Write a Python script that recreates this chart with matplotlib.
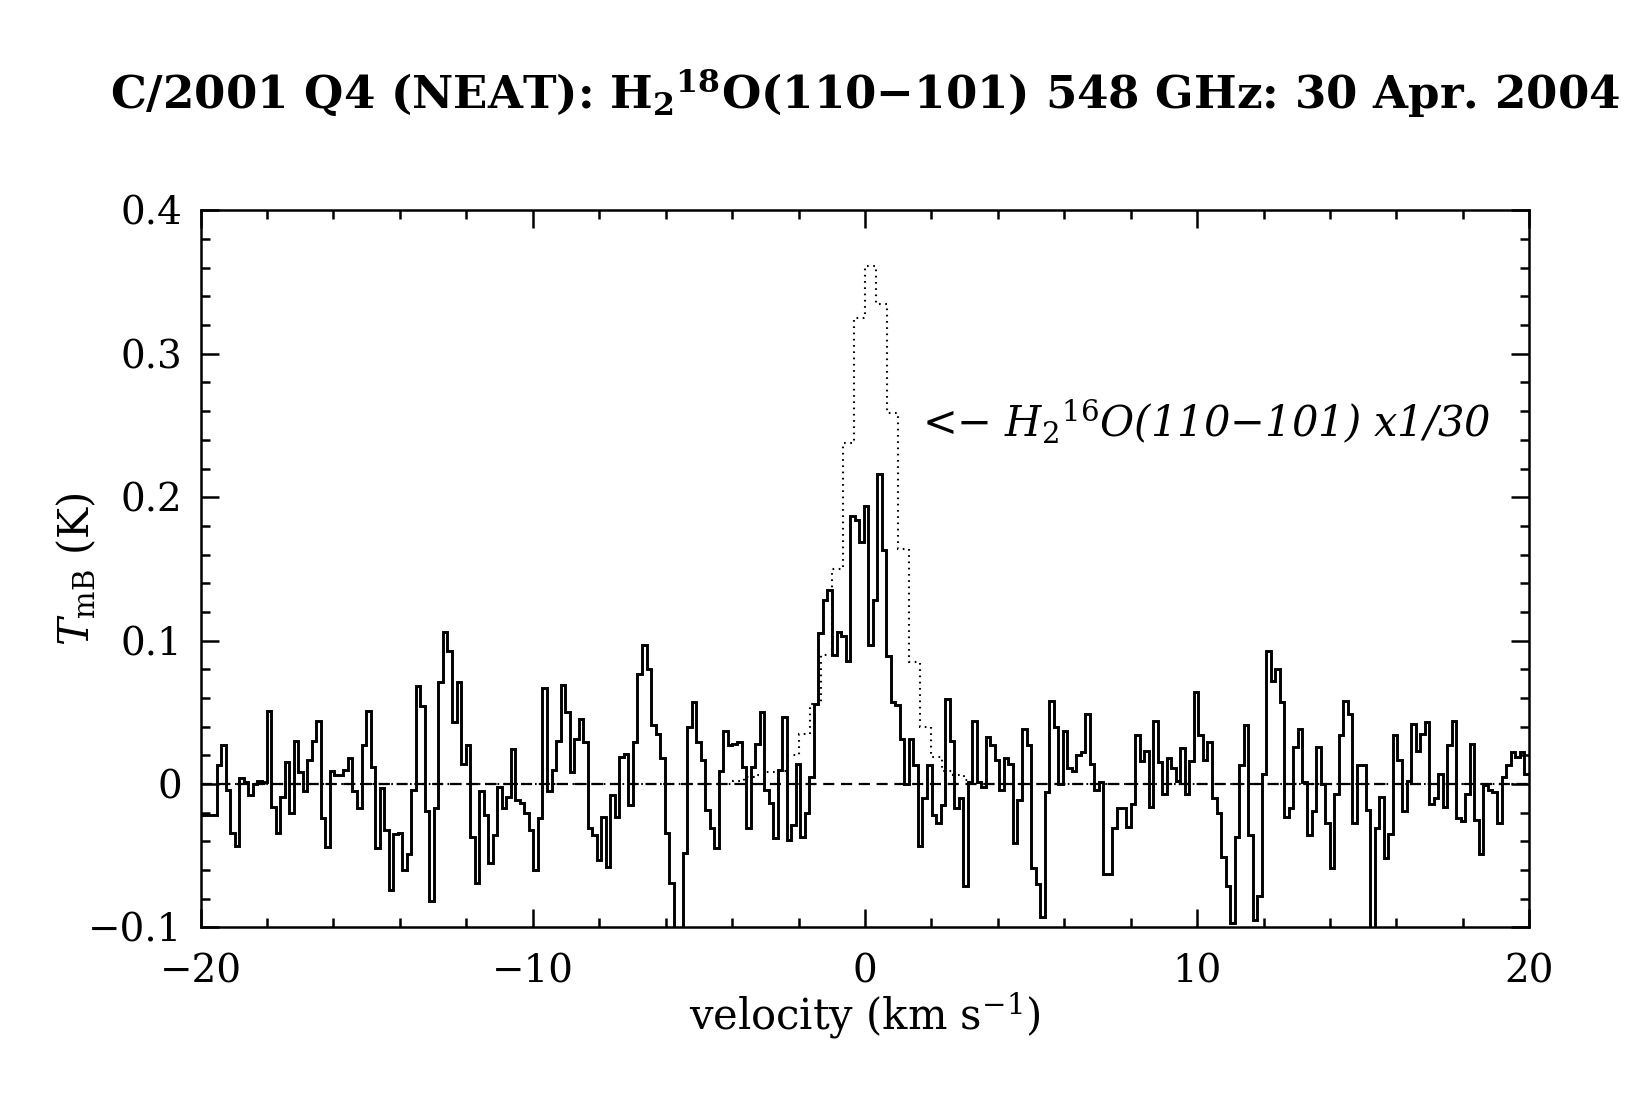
import numpy as np
import matplotlib
matplotlib.use("Agg")
import matplotlib.pyplot as plt

plt.rcParams['font.family'] = ['DejaVu Serif']
plt.rcParams['mathtext.fontset'] = 'dejavuserif'

# H2-18O spectrum, channel values (K)
v_start = -20.06      # left edge of first channel (km/s)
dv = 0.1362           # channel width (km/s)
tmb_18 = [
    -0.022, -0.022, -0.022, -0.022, 0.013, 0.027, -0.004, -0.034, -0.043, 0.004,
    0.001, -0.008, 0.000, 0.002, 0.001, 0.051, -0.016, -0.034, -0.009, 0.015,
    -0.020, 0.030, 0.008, -0.005, 0.017, 0.030, 0.044, -0.024, -0.044, 0.009,
    0.006, 0.006, 0.010, 0.018, -0.005, -0.017, 0.027, 0.051, 0.012, -0.045,
    -0.003, -0.032, -0.074, -0.035, -0.034, -0.060, -0.049, -0.004, 0.068, 0.054,
    -0.019, -0.082, -0.017, 0.071, 0.106, 0.093, 0.043, 0.071, 0.014, 0.027,
    -0.037, -0.069, -0.005, -0.022, -0.055, -0.036, -0.002, -0.017, -0.009, 0.024,
    -0.011, -0.013, -0.020, -0.032, -0.060, -0.024, 0.067, -0.005, 0.010, 0.030,
    0.069, 0.050, 0.008, 0.031, 0.045, 0.029, -0.031, -0.036, -0.053, -0.023,
    -0.058, -0.008, -0.023, 0.019, 0.021, -0.015, 0.029, 0.077, 0.097, 0.080,
    0.041, 0.035, 0.018, -0.034, -0.069, -0.120, -0.120, -0.048, 0.040, 0.057,
    0.029, 0.017, -0.018, -0.031, -0.045, 0.009, 0.037, 0.027, 0.028, 0.029,
    0.012, -0.031, 0.012, 0.028, 0.050, -0.004, -0.013, -0.038, 0.010, 0.047,
    -0.039, -0.029, 0.014, -0.037, -0.020, 0.005, 0.056, 0.105, 0.128, 0.135,
    0.090, 0.106, 0.103, 0.086, 0.187, 0.184, 0.169, 0.194, 0.097, 0.128,
    0.216, 0.163, 0.089, 0.057, 0.055, 0.031, 0.000, 0.031, 0.013, -0.043,
    -0.010, 0.013, -0.022, -0.027, -0.015, 0.059, 0.030, -0.017, -0.010, -0.071,
    0.001, 0.044, 0.001, -0.002, 0.033, 0.027, 0.017, -0.004, 0.018, 0.014,
    -0.041, -0.011, 0.038, 0.027, -0.059, -0.070, -0.093, -0.006, 0.058, 0.040,
    0.000, 0.037, 0.011, 0.009, 0.020, 0.022, 0.049, 0.014, -0.004, 0.001,
    -0.063, -0.063, -0.031, -0.017, -0.017, -0.030, -0.014, 0.034, 0.016, 0.023,
    -0.016, 0.044, 0.015, -0.007, 0.018, 0.011, 0.002, 0.025, -0.007, 0.016,
    0.064, 0.034, 0.017, 0.029, -0.010, -0.020, -0.051, -0.071, -0.097, -0.037,
    0.013, 0.041, -0.036, -0.095, -0.078, 0.007, 0.093, 0.072, 0.080, 0.057,
    -0.023, -0.017, 0.026, 0.038, 0.001, -0.036, -0.019, 0.026, 0.000, -0.027,
    -0.059, -0.007, 0.034, 0.058, 0.049, -0.027, 0.013, 0.013, -0.018, -0.105,
    -0.031, -0.009, -0.052, -0.035, 0.034, 0.017, -0.019, 0.002, 0.042, 0.023,
    0.035, 0.043, -0.014, -0.010, 0.007, -0.016, 0.027, 0.044, -0.024, -0.026,
    -0.007, 0.028, -0.025, -0.049, -0.001, -0.004, -0.006, -0.027, 0.005, 0.013,
    0.022, 0.019, 0.022, 0.007,
]

# H2-16O line scaled by 1/30 (coarser channels), nonzero part only
h16_start = -3.96
h16_dv = 0.33
tmb_16_core = [
    0.002, 0.005, 0.006, 0.008, 0.009, 0.020, 0.035, 0.056, 0.090, 0.150,
    0.238, 0.325, 0.361, 0.335, 0.259, 0.164, 0.085, 0.040, 0.019, 0.009,
    0.006, 0.003,
]

edges_18 = v_start + dv * np.arange(len(tmb_18) + 1)

# pad the 16O line with zero channels out to the plot edges
n_left = int(round((h16_start + 20.5) / h16_dv))
n_right = int(round((20.5 - (h16_start + h16_dv * len(tmb_16_core))) / h16_dv))
tmb_16 = np.concatenate([np.zeros(n_left), tmb_16_core, np.zeros(n_right)])
edges_16 = h16_start - n_left * h16_dv + h16_dv * np.arange(len(tmb_16) + 1)

fig = plt.figure(figsize=(16.5, 10.95), dpi=100)
ax = fig.add_axes([0.1216, 0.1532, 0.8052, 0.6546])

ax.axhline(0, color='black', lw=1.6, dashes=(5, 3))
ax.stairs(tmb_16, edges_16, baseline=None, color='black', lw=1.5,
          linestyle=(0, (0.8, 2.2)))
ax.stairs(tmb_18, edges_18, baseline=None, color='black', lw=2.1)

ax.set_xlim(-20, 20)
ax.set_ylim(-0.1, 0.4)
ax.set_xticks([-20, -10, 0, 10, 20])
ax.set_xticks(np.arange(-20, 21, 2), minor=True)
ax.set_yticks([-0.1, 0, 0.1, 0.2, 0.3, 0.4])
ax.set_yticks(np.arange(-0.1, 0.401, 0.02), minor=True)
ax.set_xticklabels(['\u221220', '\u221210', '0', '10', '20'])
ax.set_yticklabels(['\u22120.1', '0', '0.1', '0.2', '0.3', '0.4'])
ax.tick_params(which='both', direction='in', top=True, right=True, width=1.8,
               labelsize=28, color='black')
ax.tick_params(which='major', length=13)
ax.tick_params(which='minor', length=6.5)
ax.tick_params(axis='x', pad=19)
ax.tick_params(axis='y', pad=13)
for s in ax.spines.values():
    s.set_linewidth(1.8)

ax.set_xlabel(r'velocity (km s$^{-1}$)', fontsize=30, labelpad=0)
ax.set_ylabel(r'$T_{\rm mB}$ (K)', fontsize=30, labelpad=-7)

ax.text(1.72, 0.252, '<\u2212 H$_\\mathit{2}$$^\\mathit{16}$O(110\u2212101) x1/30',
        fontsize=30, style='italic', ha='left', va='center')

fig.text(0.524, 0.915,
         'C/2001 Q4 (NEAT): H$_\\mathbf{2}$$^\\mathbf{18}$O(110\u2212101) 548 GHz: 30 Apr. 2004',
         fontsize=32.5, fontweight='bold', ha='center', va='center')

fig.savefig('out.png', dpi=100)
